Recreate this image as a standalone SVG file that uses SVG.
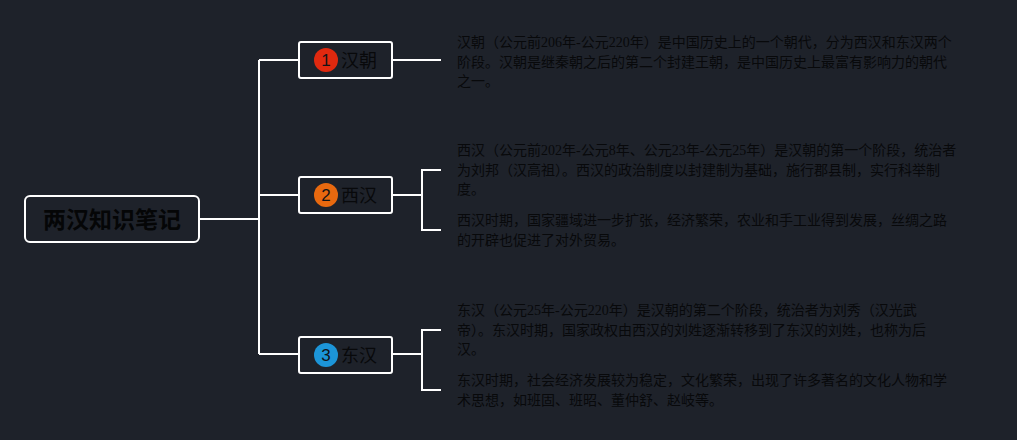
<svg xmlns="http://www.w3.org/2000/svg" width="1017" height="440" viewBox="0 0 1017 440">
<style>
.bg{fill:#1e222a}
.box{fill:#1e222a;stroke:#ffffff;stroke-width:2}
.ln{fill:none;stroke:#ffffff;stroke-width:2}
.t{font-family:"Liberation Serif","Noto Sans CJK SC",serif;font-size:14px;fill:#08090b}
.lbl{font-family:"Noto Sans CJK SC",sans-serif;font-size:18px;fill:#08090b}
.num{font-family:"Liberation Sans","Noto Sans CJK SC",sans-serif;font-size:17px;fill:#111317;text-anchor:middle}
.root{font-family:"Noto Sans CJK SC",sans-serif;font-size:23px;font-weight:bold;fill:#050607;text-anchor:middle}
</style>
<rect class="bg" x="0" y="0" width="1017" height="440"/>
<g id="connectors">
<path class="ln" d="M199,219 H259 M259,60 V354 M259,60 H299 M259,195 H299 M259,354 H299"/>
<path class="ln" d="M392,60 H441"/>
<path class="ln" d="M392,195 H422 M441,170 H422 V230 H441"/>
<path class="ln" d="M392,354 H422 M441,330 H422 V390 H441"/>
</g>
<g id="root">
<rect class="box" x="25" y="196" width="174" height="46" rx="5"/>
<text class="root" x="112" y="228">两汉知识笔记</text>
</g>
<g id="node1">
<rect class="box" x="299" y="42" width="93" height="36" rx="2"/>
<circle cx="326" cy="60" r="12" fill="#e0290f"/>
<text class="num" x="326" y="66">1</text>
<text class="lbl" x="341" y="66.5">汉朝</text>
</g>
<g id="node2">
<rect class="box" x="299" y="177" width="93" height="36" rx="2"/>
<circle cx="326" cy="195" r="12" fill="#e8690f"/>
<text class="num" x="326" y="201">2</text>
<text class="lbl" x="341" y="201.5">西汉</text>
</g>
<g id="node3">
<rect class="box" x="299" y="337" width="93" height="36" rx="2"/>
<circle cx="326" cy="355" r="12" fill="#1c95d8"/>
<text class="num" x="326" y="361">3</text>
<text class="lbl" x="341" y="361.5">东汉</text>
</g>
<g id="text1">
<text class="t" x="457" y="47">汉朝（公元前206年-公元220年）是中国历史上的一个朝代，分为西汉和东汉两个</text>
<text class="t" x="457" y="66.5">阶段。汉朝是继秦朝之后的第二个封建王朝，是中国历史上最富有影响力的朝代</text>
<text class="t" x="457" y="86">之一。</text>
</g>
<g id="text2a">
<text class="t" x="457" y="155">西汉（公元前202年-公元8年、公元23年-公元25年）是汉朝的第一个阶段，统治者</text>
<text class="t" x="457" y="174.5">为刘邦（汉高祖）。西汉的政治制度以封建制为基础，施行郡县制，实行科举制</text>
<text class="t" x="457" y="194">度。</text>
</g>
<g id="text2b">
<text class="t" x="457" y="225">西汉时期，国家疆域进一步扩张，经济繁荣，农业和手工业得到发展，丝绸之路</text>
<text class="t" x="457" y="244.5">的开辟也促进了对外贸易。</text>
</g>
<g id="text3a">
<text class="t" x="457" y="315">东汉（公元25年-公元220年）是汉朝的第二个阶段，统治者为刘秀（汉光武</text>
<text class="t" x="457" y="334.5">帝）。东汉时期，国家政权由西汉的刘姓逐渐转移到了东汉的刘姓，也称为后</text>
<text class="t" x="457" y="354">汉。</text>
</g>
<g id="text3b">
<text class="t" x="457" y="385">东汉时期，社会经济发展较为稳定，文化繁荣，出现了许多著名的文化人物和学</text>
<text class="t" x="457" y="404.5">术思想，如班固、班昭、董仲舒、赵岐等。</text>
</g>
</svg>
